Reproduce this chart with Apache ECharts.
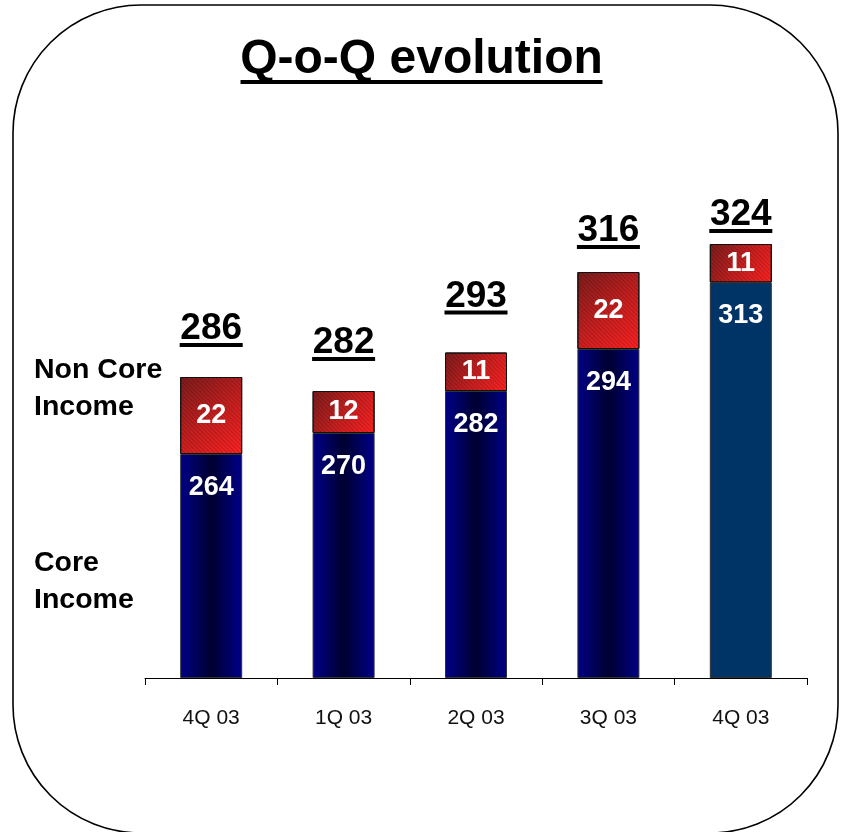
<!DOCTYPE html>
<html>
<head>
<meta charset="utf-8">
<title>Q-o-Q evolution</title>
<script src="https://cdn.jsdelivr.net/npm/echarts@6/dist/echarts.min.js"></script>
<style>
  html, body { margin: 0; padding: 0; background: #fff; }
  #chart { width: 843px; height: 832px; }
</style>
</head>
<body>
<div id="chart"></div>
<script>
// Quarterly income split into core and non-core parts
const quarters = ['4Q 03', '1Q 03', '2Q 03', '3Q 03', '4Q 03'];
const coreIncome = [264, 270, 282, 294, 313];
const nonCoreIncome = [22, 12, 11, 22, 11];

const totals = coreIncome.map((v, i) => v + nonCoreIncome[i]);

// gap between each total label and the top of its bar (px)
const totalGap = [30, 30, 38, 23, 11];

const FONT = "'Liberation Sans', Arial, Helvetica, sans-serif";

const coreGradient = {
  type: 'linear', x: 0, y: 0, x2: 1, y2: 0,
  colorStops: [
    { offset: 0, color: '#000088' },
    { offset: 0.5, color: '#000030' },
    { offset: 1, color: '#000088' }
  ]
};
const nonCoreGradient = {
  type: 'linear', x: 0, y: 0, x2: 1, y2: 1,
  colorStops: [
    { offset: 0, color: '#7a1c1c' },
    { offset: 0.5, color: '#c41f1f' },
    { offset: 1, color: '#ff2222' }
  ]
};

const chart = echarts.init(document.getElementById('chart'), null, { renderer: 'canvas' });

chart.setOption({
  animation: false,
  backgroundColor: '#ffffff',
  title: {
    text: '{t|Q-o-Q evolution}\n{u| }',
    left: 'center',
    top: 35,
    textStyle: {
      rich: {
        t: { fontFamily: FONT, fontSize: 48, fontWeight: 'bold', color: '#000', lineHeight: 40, align: 'center' },
        u: { width: 362, height: 4, lineHeight: 4, backgroundColor: '#000', align: 'center' }
      }
    }
  },
  graphic: [
    {
      type: 'rect',
      shape: { x: 13, y: 5, width: 825, height: 828, r: 128 },
      style: { fill: 'none', stroke: '#000', lineWidth: 1.6 },
      silent: true, z: 0
    },
    {
      type: 'text', left: 34, top: 352,
      style: { text: 'Non Core\nIncome', font: 'bold 28.5px ' + FONT, fill: '#000', lineHeight: 37 },
      silent: true
    },
    {
      type: 'text', left: 34, top: 545,
      style: { text: 'Core\nIncome', font: 'bold 28.5px ' + FONT, fill: '#000', lineHeight: 37 },
      silent: true
    }
  ],
  grid: { left: 145, right: 36, top: 118, bottom: 154, containLabel: false },
  xAxis: {
    type: 'category',
    data: quarters,
    axisLine: { lineStyle: { color: '#000', width: 1 } },
    axisTick: { show: true, length: 7, lineStyle: { color: '#000' } },
    axisLabel: { fontFamily: FONT, fontSize: 21, color: '#111', margin: 30 },
    splitLine: { show: false }
  },
  yAxis: {
    type: 'value',
    min: 200,
    max: 360,
    startValue: 200,
    show: false,
    splitLine: { show: false }
  },
  series: [
    {
      name: 'Core Income',
      type: 'bar',
      stack: 'income',
      barWidth: 62,
      data: coreIncome.map((v, i) => i === coreIncome.length - 1
        ? { value: v, itemStyle: { color: '#003366' } }
        : v),
      itemStyle: { color: coreGradient, borderColor: '#333', borderWidth: 1 },
      label: {
        show: true, position: 'insideTop', distance: 20,
        fontFamily: FONT, fontSize: 27, fontWeight: 'bold', color: '#fff'
      },
      z: 2
    },
    {
      name: 'Non Core Income',
      type: 'bar',
      stack: 'income',
      barWidth: 62,
      data: nonCoreIncome,
      itemStyle: {
        color: nonCoreGradient, borderColor: '#111', borderWidth: 1,
        decal: {
          symbol: 'rect', symbolSize: 1,
          color: 'rgba(0,0,0,0.18)',
          dashArrayX: [1, 0], dashArrayY: [1, 2],
          rotation: Math.PI / 4
        }
      },
      label: {
        show: true, position: 'inside',
        fontFamily: FONT, fontSize: 27, fontWeight: 'bold', color: '#fff'
      },
      z: 2
    },
    {
      name: 'Total',
      type: 'scatter',
      symbolSize: 0,
      silent: true,
      itemStyle: { opacity: 1 },
      data: totals.map((v, i) => ({ value: v, label: { distance: totalGap[i] } })),
      label: {
        show: true, position: 'top',
        formatter: p => '{v|' + p.value + '}\n{u| }',
        rich: {
          v: { fontFamily: FONT, fontSize: 37, fontWeight: 'bold', color: '#000', lineHeight: 28, align: 'center' },
          u: { width: 63, height: 4, lineHeight: 4, backgroundColor: '#000', align: 'center' }
        }
      },
      z: 3
    }
  ]
});
</script>
</body>
</html>
